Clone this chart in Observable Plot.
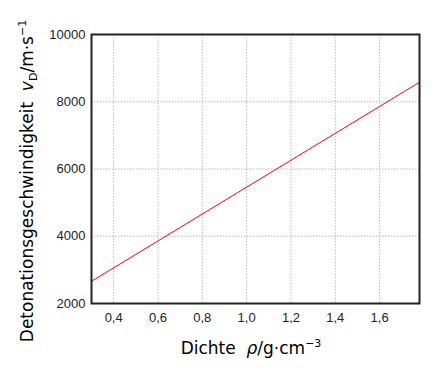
<!DOCTYPE html>
<html><head><meta charset="utf-8">
<script src="https://cdn.jsdelivr.net/npm/d3@7"></script>
<script src="https://cdn.jsdelivr.net/npm/@observablehq/plot@0.6"></script>
<style>body{margin:0;background:#fff}</style>
</head><body><div id="chart"></div>
<script>
const density = [0.3, 1.78];
const velocity = [2660, 8580];
const xTicks = [0.4, 0.6, 0.8, 1.0, 1.2, 1.4, 1.6];
const yTicks = [2000, 4000, 6000, 8000, 10000];
const data = density.map((d, i) => ({rho: d, v: velocity[i]}));
const fmtX = d => d.toFixed(1).replace(".", ",");
const fmtY = d => String(d);
const tickFont = "'Liberation Sans', Arial, sans-serif";

const plot = Plot.plot({
  width: 440, height: 375,
  marginLeft: 91, marginRight: 21, marginTop: 34, marginBottom: 72,
  style: {fontFamily: tickFont, fontSize: "13px", color: "#222", background: "#fff"},
  x: {domain: [0.3, 1.78], label: null},
  y: {domain: [2000, 10000], label: null},
  marks: [
    Plot.gridX(xTicks, {stroke: "#bbb", strokeOpacity: 1, strokeDasharray: "1.5,1.5"}),
    Plot.gridY(yTicks, {stroke: "#bbb", strokeOpacity: 1, strokeDasharray: "1.5,1.5"}),
    Plot.line(data, {x: "rho", y: "v", stroke: "#f00", strokeWidth: 1}),
    Plot.frame({stroke: "#222", strokeWidth: 2}),
    Plot.axisX(xTicks, {tickSize: 0, tickPadding: 9, tickFormat: fmtX, label: null, fill: "#222"}),
    Plot.axisY(yTicks, {tickSize: 0, tickPadding: 6, tickFormat: fmtY, label: null, fill: "#222"})
  ]
});
document.getElementById("chart").appendChild(plot);

const svg = d3.select(plot);
svg.selectAll("g").each(function() {
  if (this.querySelector("text")) {
    this.removeAttribute("font-size");
    this.removeAttribute("font-family");
    this.style.fontSize = "13px";
    this.style.fontFamily = tickFont;
  }
});
svg.selectAll("text").style("font-size", "13px").style("font-family", tickFont);

const lf = "'DejaVu Sans', sans-serif";
const xl = svg.append("text").attr("x", 251).attr("y", 354).attr("text-anchor", "middle")
  .style("font-family", lf).style("font-size", "17px").attr("fill", "#000");
xl.append("tspan").text("Dichte\u00a0\u00a0");
xl.append("tspan").attr("font-style", "italic").text("ρ");
xl.append("tspan").text("/g·cm");
xl.append("tspan").style("font-size", "11px").attr("dy", -7).text("−3");

const yl = svg.append("text").attr("transform", "translate(33,181) rotate(-90)").attr("text-anchor", "middle")
  .style("font-family", lf).style("font-size", "17px").attr("fill", "#000");
yl.append("tspan").text("Detonationsgeschwindigkeit\u00a0\u00a0");
yl.append("tspan").attr("font-style", "italic").text("v");
yl.append("tspan").style("font-size", "11px").attr("dy", 4).text("D");
yl.append("tspan").attr("dy", -4).text("/m·s");
yl.append("tspan").style("font-size", "11px").attr("dy", -7).text("−1");
</script>
</body></html>
